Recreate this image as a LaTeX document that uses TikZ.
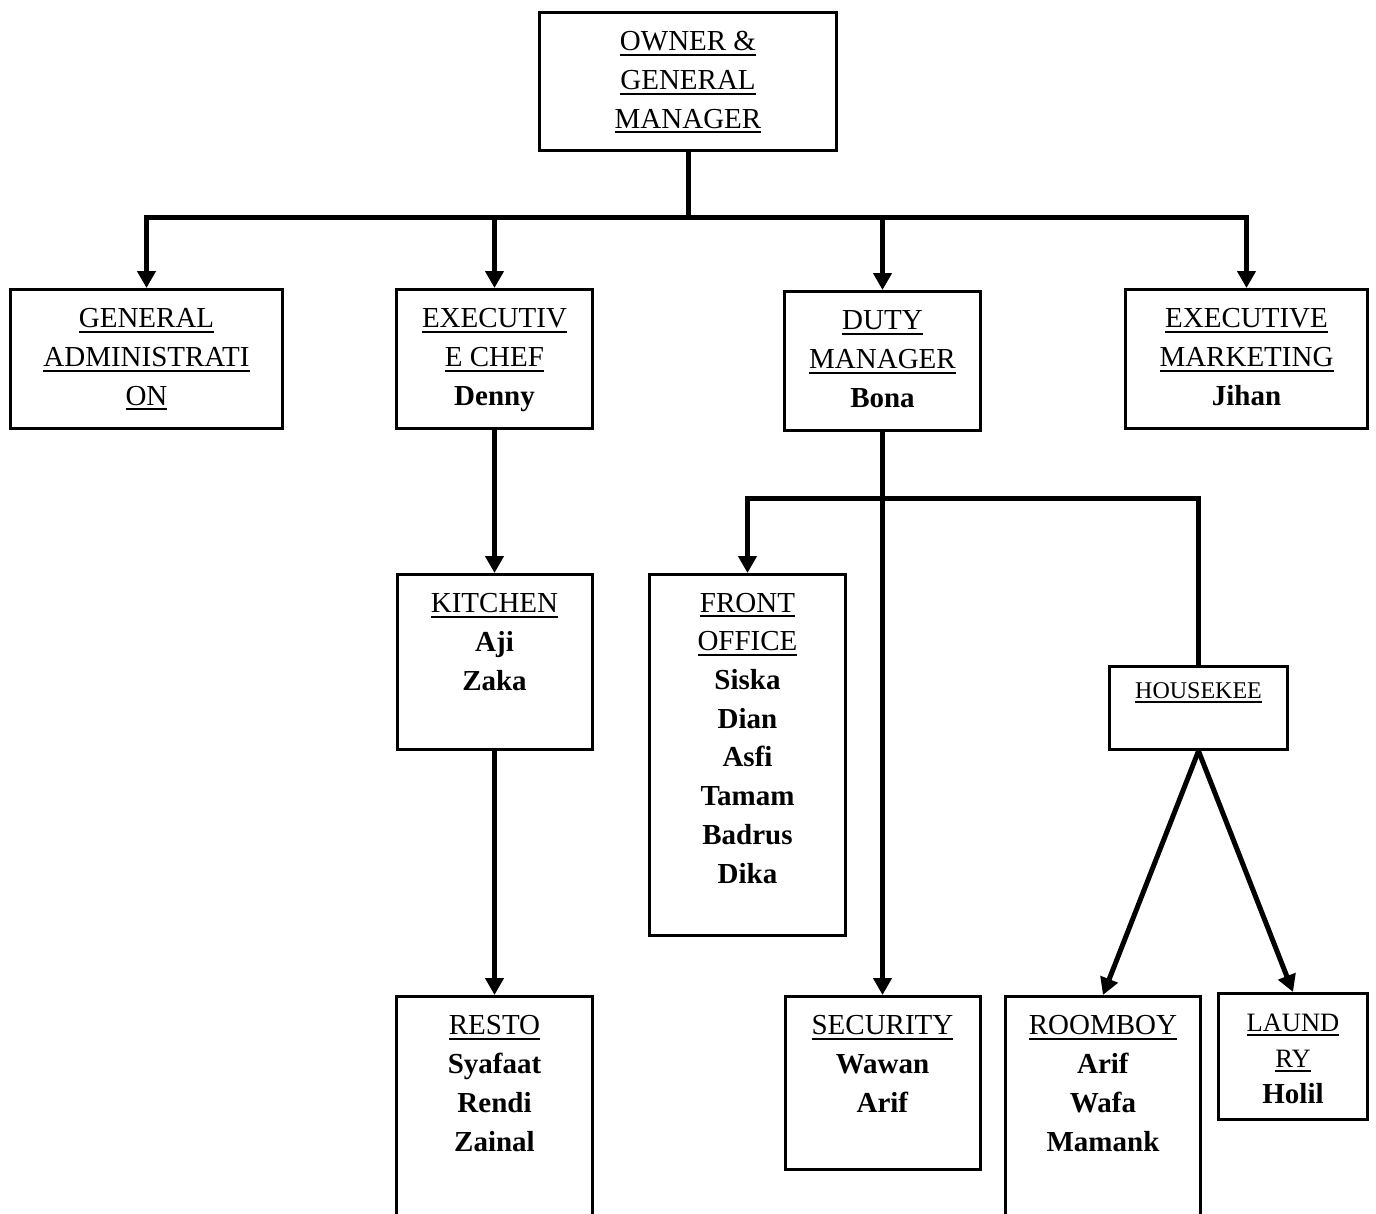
\documentclass[tikz,border=0pt]{standalone}
\usepackage{fontspec}
\setmainfont{Liberation Serif}
\usetikzlibrary{arrows.meta}
\newcommand{\ulin}[1]{\leavevmode\setbox0=\hbox{#1}\rlap{\rule[-5pt]{\wd0}{2pt}}\box0}
\tikzset{
  orgbox/.style={draw, line width=3pt, inner sep=0pt},
  txt/.style={anchor=north, inner sep=0pt, align=center, font=\fontsize{29}{38.7}\selectfont},
  conn/.style={line width=5pt},
  arr/.style={line width=5pt, -{Triangle[length=17pt,width=18pt]}},
}
\begin{document}
\begin{tikzpicture}[x=1pt,y=-1pt]
\useasboundingbox (0,0) rectangle (1376,1213);
\clip (0,0) rectangle (1376,1213);
% boxes
\node[orgbox, minimum width=297pt, minimum height=138pt] (own) at (688,81.5) {};
\node[orgbox, minimum width=272pt, minimum height=139pt] (ga) at (146.5,359) {};
\node[orgbox, minimum width=196pt, minimum height=139pt] (ec) at (494.5,359) {};
\node[orgbox, minimum width=196pt, minimum height=139pt] (dm) at (882.5,361) {};
\node[orgbox, minimum width=242pt, minimum height=139pt] (mk) at (1246.5,359) {};
\node[orgbox, minimum width=195pt, minimum height=175pt] (kt) at (494.5,662) {};
\node[orgbox, minimum width=196pt, minimum height=361pt] (fo) at (747.5,755) {};
\node[orgbox, minimum width=178pt, minimum height=83pt] (hk) at (1198.5,708) {};
\node[orgbox, minimum width=196pt, minimum height=242pt] (rs) at (494.5,1117.5) {};
\node[orgbox, minimum width=195pt, minimum height=173pt] (sec) at (882.5,1083) {};
\node[orgbox, minimum width=195pt, minimum height=242pt] (rb) at (1103,1117.5) {};
\node[orgbox, minimum width=149pt, minimum height=126pt] (ld) at (1293,1056.5) {};
% texts
\node[txt] (t-own) at ([yshift=-12.6pt]own.north) {\strut\ulin{OWNER \&}\\\ulin{GENERAL}\\\ulin{MANAGER}};
\node[txt] (t-ga) at ([yshift=-12.6pt]ga.north) {\strut\ulin{GENERAL}\\\ulin{ADMINISTRATI}\\\ulin{ON}};
\node[txt] (t-ec) at ([yshift=-12.6pt]ec.north) {\strut\ulin{EXECUTIV}\\\ulin{E CHEF}\\\textbf{Denny}};
\node[txt] (t-dm) at ([yshift=-12.6pt]dm.north) {\strut\ulin{DUTY}\\\ulin{MANAGER}\\\textbf{Bona}};
\node[txt] (t-mk) at ([yshift=-12.6pt]mk.north) {\strut\ulin{EXECUTIVE}\\\ulin{MARKETING}\\\textbf{Jihan}};
\node[txt] (t-kt) at ([yshift=-12.6pt]kt.north) {\strut\ulin{KITCHEN}\\\textbf{Aji}\\\textbf{Zaka}};
\node[txt] (t-fo) at ([yshift=-11.8pt]fo.north) {\strut\ulin{FRONT}\\\ulin{OFFICE}\\\textbf{Siska}\\\textbf{Dian}\\\textbf{Asfi}\\\textbf{Tamam}\\\textbf{Badrus}\\\textbf{Dika}};
\node[txt, font=\fontsize{24}{30}\selectfont] (t-hk) at ([yshift=-11.9pt]hk.north) {\strut\ulin{HOUSEKEE}};
\node[txt] (t-rs) at ([yshift=-12.6pt]rs.north) {\strut\ulin{RESTO}\\\textbf{Syafaat}\\\textbf{Rendi}\\\textbf{Zainal}};
\node[txt] (t-sec) at ([yshift=-12.6pt]sec.north) {\strut\ulin{SECURITY}\\\textbf{Wawan}\\\textbf{Arif}};
\node[txt] (t-rb) at ([yshift=-12.6pt]rb.north) {\strut\ulin{ROOMBOY}\\\textbf{Arif}\\\textbf{Wafa}\\\textbf{Mamank}};
\node[txt, font=\fontsize{26.5}{36}\selectfont] (t-ld) at ([yshift=-13.6pt]ld.north) {\strut\ulin{LAUND}\\\ulin{RY}\\\fontsize{29}{36}\selectfont\textbf{Holil}};
% connectors
\coordinate (bus) at (688,217);
\coordinate (dbus) at (882.5,498);
\draw[conn] (own.south) -- (bus);
\draw[arr] (bus) -| (ga.north);
\draw[arr] (bus) -| (ec.north);
\draw[arr] (bus) -| (dm.north);
\draw[arr] (bus) -| (mk.north);
\draw[arr] (ec.south) -- (kt.north);
\draw[arr] (kt.south) -- (rs.north);
\draw[arr] (dm.south) -- (sec.north);
\draw[arr] (dbus) -| (fo.north);
\draw[conn] (dbus) -| (hk.north);
\draw[arr] (hk.south) -- (rb.north);
\draw[arr] (hk.south) -- (ld.north);
\end{tikzpicture}
\end{document}
